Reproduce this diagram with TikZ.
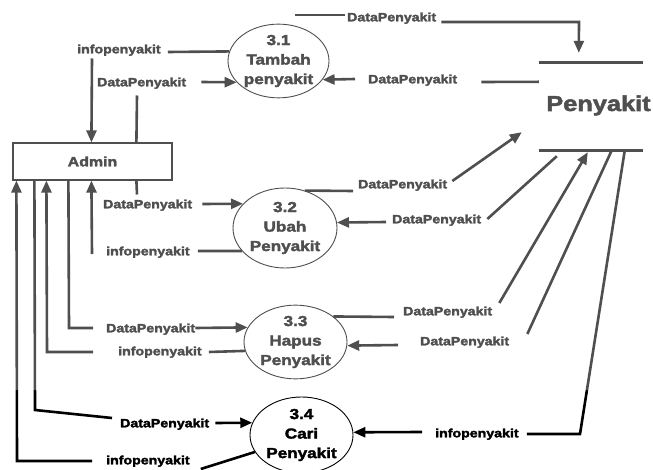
\documentclass[tikz,border=0pt]{standalone}
\usepackage{fontspec}
\newfontfamily\dfd{Liberation Sans}[FakeStretch=1.18, BoldFeatures={FakeBold=2.4}]
\usetikzlibrary{arrows.meta,shapes.geometric,calc}

\begin{document}
\begin{tikzpicture}[x=1pt,y=-1pt,
  flow/.style={line width=2.6pt},
  arr/.style={-{Triangle[length=12pt,width=10pt]}},
  lbl/.style={font=\dfd\bfseries\fontsize{12}{14}\selectfont, inner sep=0pt,
              text height=8.6pt, text depth=0pt, anchor=west},
  proc/.style={ellipse, draw, line width=0.9pt, inner sep=0pt, align=center,
               font=\dfd\bfseries\fontsize{14.5}{19.5}\selectfont},
  storeline/.style={line width=3pt},
]
\useasboundingbox (0,0) rectangle (653,470);
\fill[white] (0,0) rectangle (653,470);

% external entity and data store
\node[draw, line width=1.2pt, minimum width=159pt, minimum height=37pt, inner sep=0pt,
      font=\dfd\bfseries\fontsize{13.5}{16}\selectfont] (a) at (92.5,161.5) {Admin};
\node[minimum width=104pt, minimum height=87pt, inner sep=0pt] (s) at (591,106.5) {};
\draw[storeline] (s.north west) -- (s.north east);
\draw[storeline] (s.south west) -- (s.south east);
\node[anchor=base, inner sep=0pt, font=\dfd\bfseries\fontsize{21.5}{24}\selectfont]
      (st) at (598.5,111) {Penyakit};

% processes
\node[proc, minimum width=101pt, minimum height=68pt] (e31) at (278.5,61) {3.1\\Tambah\\penyakit};
\node[proc, minimum width=104pt, minimum height=80pt] (e32) at (285,228) {3.2\\Ubah\\Penyakit};
\node[proc, minimum width=103pt, minimum height=70pt] (e33) at (295.5,342) {3.3\\Hapus\\Penyakit};
\node[proc, minimum width=103pt, minimum height=76pt] (e34) at (301.5,435) {3.4\\Cari\\Penyakit};

% flow labels
\node[lbl] (l1)  at (77,49)   {infopenyakit};
\node[lbl] (l2)  at (97,82)   {DataPenyakit};
\node[lbl] (l3)  at (347,17)  {DataPenyakit};
\node[lbl] (l4)  at (368,79)  {DataPenyakit};
\node[lbl] (l5)  at (103,204) {DataPenyakit};
\node[lbl] (l6)  at (106,251) {infopenyakit};
\node[lbl] (l7)  at (106,328) {DataPenyakit};
\node[lbl] (l8)  at (118,351) {infopenyakit};
\node[lbl] (l9)  at (120,423) {DataPenyakit};
\node[lbl] (l10) at (106,460) {infopenyakit};
\node[lbl] (l11) at (358,184) {DataPenyakit};
\node[lbl] (l12) at (392,219) {DataPenyakit};
\node[lbl] (l13) at (403,311) {DataPenyakit};
\node[lbl] (l14) at (420,341) {DataPenyakit};
\node[lbl] (l15) at (435,433) {infopenyakit};

\coordinate (c3) at (295,15);

% 3.1 <-> Admin
\draw[flow] (e31.169.5) -- ($(l1.east)+(7,3)$);
\draw[flow,arr] ($(l1.south west)+(15,5)$) -- ($(a.north west)+(79,0)$);
\draw[flow] ($(a.north west)+(124,0)$) -- ($(l2.south west)+(40,9)$);
\draw[flow,arr] ($(l2.east)+(15,0)$) -- (e31.207.9);

% 3.1 <-> Penyakit
\draw[flow] (c3) -- ($(l3.west)+(-2,-2)$);
\draw[flow,arr] ($(l3.east)+(5,5)$) -- (579,22) -- ($(s.north west)+(40,-10)$);
\draw[flow] ($(s.north west)+(0,19)$) -- ($(l4.east)+(24,3)$);
\draw[flow,arr] ($(l4.west)+(-13,0)$) -- (e31.337.2);

% 3.2 <-> Admin
\draw[flow] ($(a.south west)+(124,0)$) -- ($(l5.north west)+(34,-5)$);
\draw[flow,arr] ($(l5.east)+(10,0)$) -- (e32.150);
\draw[flow] (e32.208.4) -- ($(l6.east)+(8,0)$);
\draw[flow,arr] ($(l6.west)+(-14,3)$) -- ($(a.south west)+(79,0)$);

% 3.2 <-> Penyakit
\draw[flow] (e32.62) -- ($(l11.west)+(-5,7)$);
\draw[flow,arr] ($(l11.east)+(5,-3)$) -- ($(s.south west)+(-17,-18)$);
\draw[flow] ($(s.south west)+(18,6)$) -- ($(l12.east)+(6,0)$);
\draw[flow,arr] ($(l12.west)+(-6,3)$) -- (e32.6.7);

% 3.3 <-> Admin
\draw[flow] ($(a.south west)+(56,0)$) -- (69,328) -- ($(l7.west)+(-13,0)$);
\draw[flow,arr] (l7.east) -- (e33.163.5);
\draw[flow] (e33.190.2) -- ($(l8.east)+(7,1)$);
\draw[flow,arr] ($(l8.west)+(-25,1)$) -- (47,352) -- ($(a.south west)+(34,0)$);

% 3.3 <-> Penyakit
\draw[flow] (e33.34.8) -- ($(l13.west)+(-9,6)$);
\draw[flow,arr] ($(l13.east)+(7,-8)$) -- ($(s.south west)+(49,2)$);
\draw[flow] ($(s.south west)+(73,0)$) -- ($(l14.east)+(18,-7)$);
\draw[flow,arr] ($(l14.west)+(-22,4)$) -- (e33.356.7);

% 3.4 <-> Admin
\draw[flow] ($(a.south west)+(22,0)$) -- (35,410) -- ($(l9.west)+(-8,-5)$);
\draw[flow,arr] ($(l9.east)+(6,0)$) -- (e34.166.2);
\draw[flow] (e34.200.2) -- ($(l10.east)+(11,9)$);
\draw[flow,arr] ($(l10.west)+(-14,1)$) -- (17,461) -- ($(a.south west)+(4,0)$);

% 3.4 <-> Penyakit
\draw[flow] ($(s.south west)+(86,0)$) -- (580,434) -- ($(l15.east)+(8,1)$);
\draw[flow,arr] ($(l15.west)+(-13,-1)$) -- (e34.3.3);

% pale veil over the upper part of the sheet
\fill[white, fill opacity=0.31] (0,0) rectangle (653,390);
\end{tikzpicture}
\end{document}
